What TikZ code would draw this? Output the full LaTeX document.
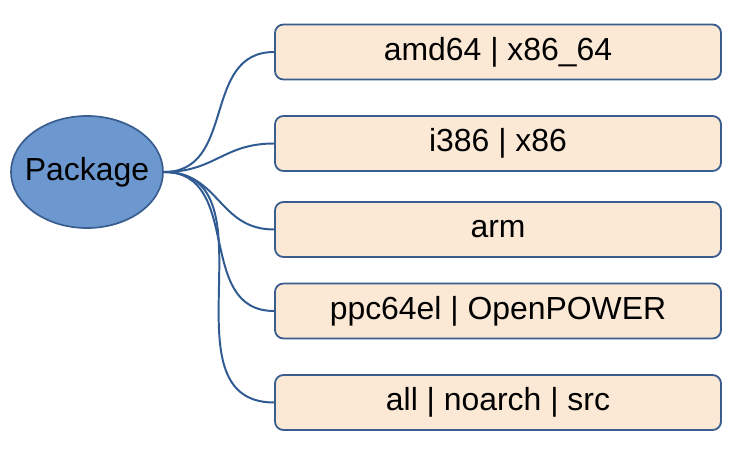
\documentclass[tikz,border=0pt]{standalone}
\usepackage{fontspec}
\setmainfont{Liberation Sans}
\usetikzlibrary{shapes.geometric}
\definecolor{pkgblue}{HTML}{6C98CF}
\definecolor{pkgedge}{HTML}{385D8E}
\definecolor{archfill}{HTML}{FCE9D5}
\definecolor{linkblue}{HTML}{2F5A92}

\begin{document}
\begin{tikzpicture}[
    font=\fontsize{22.7}{27}\selectfont,
    root/.style={
        ellipse,
        draw=pkgedge,
        fill=pkgblue,
        minimum width=3.8cm,
        minimum height=2.8cm,
        inner sep=0pt,
        line width=1.2pt
    },
    arch/.style={
        draw=pkgedge,
        fill=archfill,
        rounded corners=6pt,
        minimum width=11.15cm,
        minimum height=1.375cm,
        align=center,
        line width=1.3pt
    },
    link/.style={linkblue,line width=1.4pt}
]
\useasboundingbox (0,0) rectangle (18.475,11.25);

% Root node (text as label so the ellipse keeps its size)
\node[root,label=center:Package] (pkg) at (2.175,6.95) {};

% Architectures
\node[arch] (amd) at (12.45,9.95) {amd64 | x86\_64};
\node[arch] (i386) at (12.45,7.6625) {i386 | x86};
\node[arch] (arm) at (12.45,5.5125) {arm};
\node[arch] (ppc) at (12.45,3.475) {ppc64el | OpenPOWER};
\node[arch] (all) at (12.45,1.1875) {all | noarch | src};

% Branches
\foreach \n in {amd,i386,arm,ppc,all}
    \draw[link] (pkg.east) to[out=0,in=180,looseness=1.15] (\n.west);

\end{tikzpicture}
\end{document}
